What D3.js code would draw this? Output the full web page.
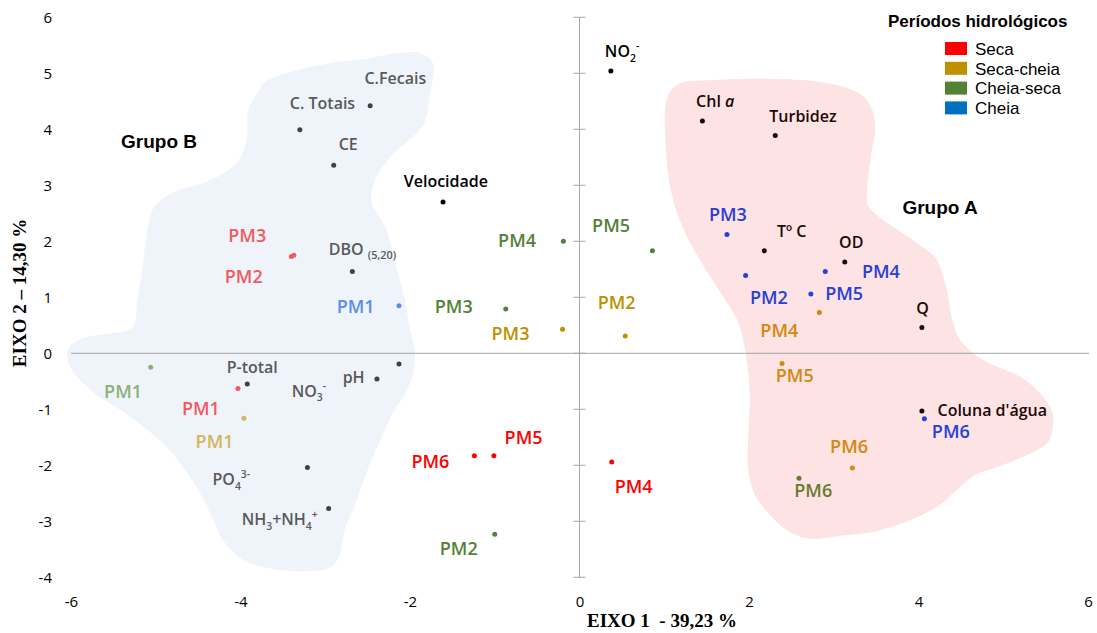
<!DOCTYPE html>
<html>
<head>
<meta charset="utf-8">
<script src="https://cdn.jsdelivr.net/npm/d3@7"></script>
<style>
  body { margin: 0; background: #fff; }
  svg { display: block; }
</style>
</head>
<body>
<svg id="chart" width="1097" height="633"></svg>
<script>
// ---- Axis ticks ----
const xTicks = [-6, -4, -2, 0, 2, 4, 6];
const yTicks = [-4, -3, -2, -1, 0, 1, 2, 3, 4, 5, 6];

// ---- Hydrological periods (legend) ----
const periods = ["Seca", "Seca-cheia", "Cheia-seca", "Cheia"];
const periodColors = ["#ff0000", "#bf9000", "#548235", "#0070c0"];

// ---- Sampling points: scores on axes 1 and 2, per period ----
const sites = ["PM1", "PM2", "PM3", "PM4", "PM5", "PM6"];
const secaX       = [-4.03, -3.40, -3.37,  0.38, -1.01, -1.24];
const secaY       = [-0.63,  1.73,  1.75, -1.94, -1.83, -1.83];
const secaCheiaX  = [-3.96,  0.54, -0.20,  2.83,  2.39,  3.22];
const secaCheiaY  = [-1.16,  0.31,  0.43,  0.73, -0.18, -2.05];
const cheiaSecaX  = [-5.06, -1.00, -0.87, -0.19,  0.86,  2.59];
const cheiaSecaY  = [-0.25, -3.23,  0.79,  2.00,  1.83, -2.23];
const cheiaX      = [-2.13,  1.96,  1.74,  2.90,  2.73,  4.07];
const cheiaY      = [ 0.85,  1.39,  2.12,  1.46,  1.06, -1.17];

// ---- Environmental variables: loadings on axes 1 and 2 ----
// markup: _{..} subscript, ^{..} superscript, *..* italic
const variableNames = ["C.Fecais", "C. Totais", "CE", "DBO _{(5,20)}", "P-total", "NO_{3}^{-}",
  "pH", "PO_{4}^{3-}", "NH_{3}+NH_{4}^{+}", "Velocidade", "NO_{2}^{-}", "Chl *a*",
  "Turbidez", "Tº C", "OD", "Q", "Coluna d'água"];
const variableX = [-2.47, -3.30, -2.90, -2.68, -3.92, -2.13, -2.39, -3.21, -2.96, -1.61,
  0.37, 1.45, 2.31, 2.18, 3.13, 4.04, 4.04];
const variableY = [4.42, 3.99, 3.36, 1.46, -0.55, -0.19, -0.46, -2.04, -2.77, 2.70,
  5.04, 4.15, 3.89, 1.83, 1.63, 0.46, -1.03];

// ---- Cluster outlines (axis units) ----
const groupNames = ["Grupo B", "Grupo A"];
const groupBX = [-2.59, -2.15, -1.88, -1.73, -1.77, -1.83, -1.97, -2.15, -2.35, -2.45, -2.45, -2.32,
  -2.27, -2.15, -2.06, -2.00, -1.94, -1.97, -2.06, -2.18, -2.35, -2.50, -2.65, -2.77, -2.83, -2.94,
  -3.30, -3.69, -3.97, -4.21, -4.32, -4.48, -4.68, -4.87, -5.10, -5.42, -5.66, -5.86, -5.99, -6.04,
  -6.02, -5.86, -5.66, -5.27, -5.22, -5.16, -5.10, -5.04, -4.91, -4.71, -4.40, -4.09, -3.97, -3.92,
  -3.91, -3.80, -3.71, -3.45, -2.91];
const groupBY = [5.24, 5.36, 5.36, 5.19, 4.58, 4.11, 3.86, 3.63, 3.27, 2.92, 2.68, 2.33,
  2.17, 1.49, 0.95, 0.42, 0.01, -0.39, -0.74, -1.01, -1.55, -2.08, -2.71, -3.15, -3.60, -3.82,
  -3.89, -3.83, -3.69, -3.33, -2.98, -2.49, -2.03, -1.67, -1.37, -1.01, -0.78, -0.53, -0.30, -0.12,
  0.11, 0.27, 0.33, 0.47, 0.95, 1.49, 2.20, 2.56, 2.77, 2.92, 3.06, 3.33, 3.58, 3.93,
  4.34, 4.65, 4.84, 5.01, 5.19];
const groupAX = [1.15, 1.58, 2.76, 3.27, 3.43, 3.49, 3.43, 3.39, 3.40, 3.55, 3.70, 3.98, 4.20,
  4.32, 4.40, 4.49, 4.76, 5.20, 5.43, 5.58, 5.58, 5.52, 5.20, 4.90, 4.67, 4.45, 4.20, 3.55, 3.07,
  2.72, 2.48, 2.25, 2.07, 1.99, 1.99, 2.01, 1.99, 1.93, 1.86, 1.66, 1.42, 1.22, 1.09, 1.03, 1.03];
const groupAY = [4.79, 4.88, 4.86, 4.67, 4.43, 4.04, 3.45, 2.83, 2.65, 2.42, 2.26, 1.97, 1.70,
  1.22, 0.60, 0.24, -0.12, -0.42, -0.71, -1.05, -1.37, -1.60, -1.87, -2.05, -2.17, -2.44, -2.76,
  -3.16, -3.26, -3.31, -3.19, -2.89, -2.53, -2.08, -1.55, -0.83, -0.30, 0.24, 0.60, 1.09, 1.67,
  2.24, 2.83, 3.45, 4.52];
const groupLabelX = [-5.41, 3.81];
const groupLabelY = [3.67, 2.49];

// ---- Layout: label offsets from each dot (px: text start, baseline) ----
const sampleLabelOffsets = [
  [[-56, 26], [-66.6, 26.6], [-65.6, -13], [3, 30.6], [10.7, -12], [-63, 12.6]],
  [[-48.3, 29.7], [-27.6, -26.7], [-71, 10.3], [-59, 24.4], [-6.3, 18.4], [-22.3, -15.6]],
  [[-46.6, 30.4], [-55, 20.7], [-71, 4], [-65.3, 5.7], [-60.3, -18.7], [-4.7, 18.4]],
  [[-62.3, 7.3], [4.3, 28.6], [-18, -13.7], [36.6, 6.4], [14.3, 6], [7.4, 18.7]]
];
const variableLabelOffsets = [[-5.7, -21.7], [-10, -21], [5, -15], [-23.7, -16.7], [-20.6, -11.3],
  [-107.3, 32.7], [-34.3, 3.7], [-95, 17.7], [-87, 16.7], [-39.3, -15.6], [-6, -14], [-6.3, -14.3],
  [-6, -13.6], [12.7, -13.4], [-5.7, -14.3], [-5.7, -14], [15.6, 5]];

// Tones of label/dot colours depending on the cluster the point falls in
const toneOutside = ["#ff0000", "#bf9000", "#548235", "#0070c0"];
const toneGroupB  = ["#f15a5f", "#d5b45e", "#8db07b", "#5b8cef"];
const toneGroupA  = ["#ff0000", "#d4880f", "#6a7a2f", "#2a3ed8"];
const varToneOutside = "#000000", varToneGroupB = "#595959", varToneGroupA = "#1c0808";

// ---- Scales ----
const svg = d3.select("#chart");
const x = d3.scaleLinear().domain([-6, 6]).range([71, 1088]);
const y = d3.scaleLinear().domain([-4, 6]).range([577.3, 17.3]);

const polyB = groupBX.map((v, i) => [v, groupBY[i]]);
const polyA = groupAX.map((v, i) => [v, groupAY[i]]);

// ---- Cluster shapes ----
const outline = d3.line().x(d => x(d[0])).y(d => y(d[1])).curve(d3.curveCatmullRomClosed.alpha(0.5));
svg.append("path").attr("d", outline(polyB)).attr("fill", "#eef4fa");
svg.append("path").attr("d", outline(polyA)).attr("fill", "#fde3e3");

// ---- Axes through the origin ----
const axisColor = "#a6a6a6";
svg.append("line").attr("x1", x(-6)).attr("x2", x(6) + 1).attr("y1", y(0)).attr("y2", y(0))
  .attr("stroke", axisColor).attr("stroke-width", 1);
svg.append("line").attr("x1", x(0)).attr("x2", x(0)).attr("y1", y(6)).attr("y2", y(-4))
  .attr("stroke", axisColor).attr("stroke-width", 1);
svg.append("g").selectAll("line").data(yTicks).join("line")
  .attr("x1", x(0) - 6).attr("x2", x(0) + 6)
  .attr("y1", d => y(d)).attr("y2", d => y(d))
  .attr("stroke", axisColor).attr("stroke-width", 1);

// ---- Tick labels ----
const fmt = d => String(d).replace("-", "-");
const gx = svg.append("g").attr("transform", `translate(0,${596.3})`)
  .call(d3.axisBottom(x).tickValues(xTicks).tickSize(0).tickPadding(0).tickFormat(fmt));
const gy = svg.append("g").attr("transform", `translate(52,0)`)
  .call(d3.axisLeft(y).tickValues(yTicks).tickSize(0).tickPadding(0).tickFormat(fmt));
[gx, gy].forEach(g => {
  g.select(".domain").remove();
  g.selectAll("text").attr("font-family", "'Open Sans', sans-serif").attr("font-size", 15)
    .attr("fill", "#000");
});

// ---- Axis titles ----
svg.append("text").attr("x", 662).attr("y", 627).attr("text-anchor", "middle")
  .attr("font-family", "'Liberation Serif', 'Times New Roman', serif").attr("font-weight", "bold")
  .attr("font-size", 19).style("white-space", "pre").text("EIXO 1  - 39,23 %");
svg.append("text").attr("transform", "translate(26,293) rotate(-90)").attr("text-anchor", "middle")
  .attr("font-family", "'Liberation Serif', 'Times New Roman', serif").attr("font-weight", "bold")
  .attr("font-size", 19).style("white-space", "pre").text("EIXO 2 – 14,30 %");

// ---- Rich label helper (subscripts, superscripts, italics) ----
function richText(textSel, str, size) {
  const re = /(_\{[^}]*\}|\^\{[^}]*\}|\*[^*]*\*|[^_^*]+)/g;
  let m, shift = 0;
  while ((m = re.exec(str)) !== null) {
    const tok = m[0];
    let content = tok, target = 0, fs = size, italic = false;
    if (tok.startsWith("_{")) {
      content = tok.slice(2, -1);
      const paren = content.startsWith("(");
      fs = paren ? size * 0.68 : size * 0.65;
      target = paren ? 4 : 4.5;
    } else if (tok.startsWith("^{")) {
      content = tok.slice(2, -1); fs = size * 0.65; target = -7;
    } else if (tok.startsWith("*")) {
      content = tok.slice(1, -1); italic = true;
    }
    const ts = textSel.append("tspan").attr("font-size", fs).attr("dy", target - shift)
      .style("white-space", "pre").text(content);
    if (italic) ts.attr("font-style", "italic");
    shift = target;
  }
}

// ---- Variables ----
const variables = variableNames.map((n, i) => {
  const p = [variableX[i], variableY[i]];
  const tone = d3.polygonContains(polyB, p) ? varToneGroupB
    : d3.polygonContains(polyA, p) ? varToneGroupA : varToneOutside;
  return { name: n, x: p[0], y: p[1], tone, off: variableLabelOffsets[i] };
});
const gv = svg.append("g");
gv.selectAll("circle").data(variables).join("circle")
  .attr("cx", d => x(d.x)).attr("cy", d => y(d.y)).attr("r", 2.5)
  .attr("fill", d => d.tone === varToneGroupB ? "#404040" : d.tone);
gv.selectAll("text").data(variables).join("text")
  .attr("x", d => x(d.x) + d.off[0]).attr("y", d => y(d.y) + d.off[1])
  .attr("font-family", "'Open Sans', sans-serif").attr("font-weight", 600)
  .attr("font-size", 16).attr("fill", d => d.tone)
  .each(function (d) { richText(d3.select(this), d.name, 16); });

// ---- Sampling points ----
const seriesX = [secaX, secaCheiaX, cheiaSecaX, cheiaX];
const seriesY = [secaY, secaCheiaY, cheiaSecaY, cheiaY];
const samples = [];
periods.forEach((per, s) => {
  sites.forEach((site, i) => {
    const p = [seriesX[s][i], seriesY[s][i]];
    const tone = d3.polygonContains(polyB, p) ? toneGroupB[s]
      : d3.polygonContains(polyA, p) ? toneGroupA[s] : toneOutside[s];
    samples.push({ site, period: per, x: p[0], y: p[1], tone, off: sampleLabelOffsets[s][i] });
  });
});
const gs = svg.append("g");
gs.selectAll("circle").data(samples).join("circle")
  .attr("cx", d => x(d.x)).attr("cy", d => y(d.y)).attr("r", 2.5).attr("fill", d => d.tone);
gs.selectAll("text").data(samples).join("text")
  .attr("x", d => x(d.x) + d.off[0]).attr("y", d => y(d.y) + d.off[1])
  .attr("font-family", "'Open Sans', sans-serif").attr("font-weight", 600)
  .attr("font-size", 18).attr("fill", d => d.tone).text(d => d.site);

// ---- Cluster names ----
svg.append("g").selectAll("text").data(groupNames).join("text")
  .attr("x", (d, i) => x(groupLabelX[i])).attr("y", (d, i) => y(groupLabelY[i]))
  .attr("font-family", "'Liberation Sans', Arial, sans-serif").attr("font-weight", "bold")
  .attr("font-size", 19).attr("fill", "#000").text(d => d);

// ---- Legend ----
const lg = svg.append("g");
lg.append("text").attr("x", 888).attr("y", 27)
  .attr("font-family", "'Liberation Sans', Arial, sans-serif").attr("font-weight", "bold")
  .attr("font-size", 17).attr("fill", "#000").text("Períodos hidrológicos");
const rows = lg.selectAll("g.row").data(periods).join("g").attr("class", "row")
  .attr("transform", (d, i) => `translate(945,${42 + i * 19.8})`);
rows.append("rect").attr("width", 22).attr("height", 13).attr("fill", (d, i) => periodColors[i]);
rows.append("text").attr("x", 30).attr("y", 12.8)
  .attr("font-family", "'Liberation Sans', Arial, sans-serif").attr("font-size", 17)
  .attr("fill", "#000").text(d => d);
</script>
</body>
</html>
